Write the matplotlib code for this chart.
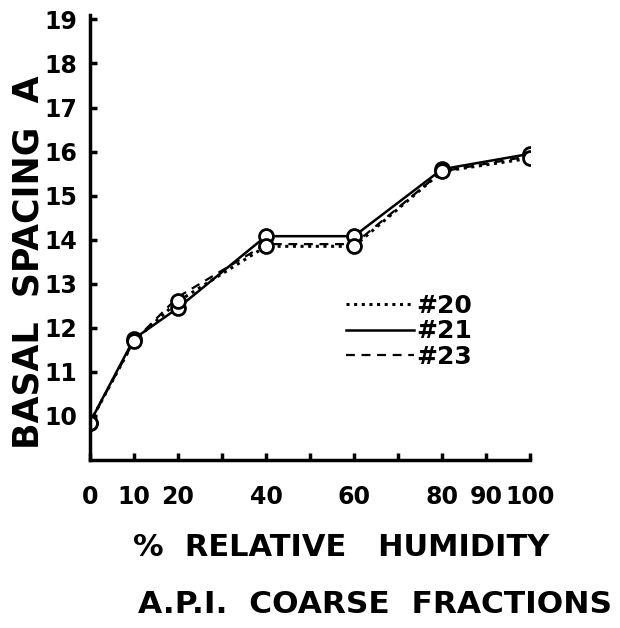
import matplotlib.pyplot as plt

# relative humidity (%) and basal spacing (A) for each fraction
humidity = [0, 10, 20, 40, 60, 80, 100]
s20 = [9.85, 11.70, 12.60, 13.85, 13.85, 15.55, 15.85]
s21 = [9.85, 11.75, 12.45, 14.08, 14.08, 15.60, 15.95]
s23 = [9.85, 11.70, 12.70, 13.90, 13.90, 15.55, 15.90]
xticks = [0, 10, 20, 40, 60, 80, 90, 100]
yticks = [10, 11, 12, 13, 14, 15, 16, 17, 18, 19]

fig = plt.figure(figsize=(6.2, 6.28), dpi=100)
ax = fig.add_axes([0.145, 0.2675, 0.71, 0.7086])

ax.plot(humidity, s20, color='black', linestyle=(0, (1, 1.5)), linewidth=2.2, label='#20')
ax.plot(humidity, s21, color='black', linestyle='-', linewidth=1.8, label='#21')
ax.plot(humidity, s23, color='black', linestyle=(0, (4, 3)), linewidth=1.6, label='#23')
# open circles on the measured points
ax.plot(humidity, s21, linestyle='none', marker='o', markersize=10,
        markerfacecolor='white', markeredgecolor='black', markeredgewidth=2)
ax.plot(humidity, s20, linestyle='none', marker='o', markersize=10,
        markerfacecolor='white', markeredgecolor='black', markeredgewidth=2)

ax.set_xlim(0, 100)
ax.set_ylim(9, 19.1)
ax.set_xticks(range(0, 101, 10))
ax.set_xticklabels([str(v) if v in xticks else '' for v in range(0, 101, 10)])
ax.set_yticks(yticks)
ax.set_yticklabels([str(v) for v in yticks])

for side in ['top', 'right']:
    ax.spines[side].set_visible(False)
for side in ['left', 'bottom']:
    ax.spines[side].set_linewidth(2.5)
ax.tick_params(direction='in', length=5, width=2.5, labelsize=17)
ax.tick_params(axis='x', pad=18)
ax.tick_params(axis='y', pad=9)
for lab in ax.get_xticklabels() + ax.get_yticklabels():
    lab.set_fontweight('bold')

ax.set_ylabel('BASAL  SPACING  A', fontsize=25, fontweight='bold')
ax.yaxis.set_label_coords(-0.10, 0.445)
ax.set_xlabel('%  RELATIVE   HUMIDITY', fontsize=22, fontweight='bold')
ax.xaxis.set_label_coords(0.57, -0.165)
fig.text(0.605, 0.037, 'A.P.I.  COARSE  FRACTIONS', fontsize=22.5,
         fontweight='bold', ha='center', va='center')

leg = ax.legend(loc='upper left', bbox_to_anchor=(0.56, 0.395), frameon=False,
                fontsize=18, handlelength=2.7, handletextpad=0.1, labelspacing=0.05,
                borderaxespad=0)
for t in leg.get_texts():
    t.set_fontweight('bold')

fig.savefig('out.png', dpi=100)
